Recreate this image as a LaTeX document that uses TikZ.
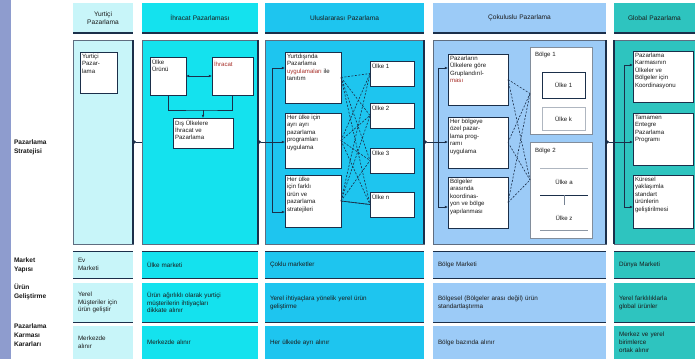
\documentclass[tikz,border=0pt]{standalone}
\usepackage{fontspec}
\setmainfont{Liberation Sans}
\usetikzlibrary{arrows.meta}

\definecolor{side}{HTML}{8E9CCE}
\definecolor{cYurt}{HTML}{C8F5F9}
\definecolor{cIhr}{HTML}{14E2EE}
\definecolor{cUlus}{HTML}{1EC5EF}
\definecolor{cCok}{HTML}{9CCBF7}
\definecolor{cGlob}{HTML}{2EC4BF}
\definecolor{edge}{HTML}{1B2F4A}
\definecolor{ink}{HTML}{1A1A1A}
\definecolor{spell}{HTML}{A8302A}

% top-aligned text block of fixed size
\newcommand\topbox[3]{\parbox[c][#2][t]{#1}{\raggedright #3}}

\begin{document}
\begin{tikzpicture}[x=1pt,y=-1pt,
  every node/.style={outer sep=0pt, text=ink},
  hdr/.style={inner xsep=3pt, inner ysep=0pt, align=center, font=\fontsize{6.6}{8.2}\selectfont},
  colbody/.style={draw=edge!70, line width=0.5pt, inner sep=0pt},
  rowcell/.style={inner xsep=5pt, inner ysep=0pt, align=left, font=\fontsize{6.3}{7.8}\selectfont},
  rowlabel/.style={inner sep=0pt, align=left, anchor=west, font=\bfseries\fontsize{6.6}{8.8}\selectfont},
  wbox/.style={draw=edge, fill=white, line width=0.6pt, inner sep=2pt, anchor=north west, font=\fontsize{6.1}{7.4}\selectfont},
  smalltext/.style={inner sep=0pt, font=\fontsize{6.1}{7.4}\selectfont},
  edgerule/.style={draw=edge, line width=1.3pt},
  cellrule/.style={draw=edge, line width=1pt},
  conn/.style={draw=edge, line width=0.7pt},
  arrowend/.style={-{Latex[length=3.2pt,width=2.8pt]}},
  dotstart/.style={{Circle[length=3pt]}-},
  dashedconn/.style={draw=edge, line width=0.6pt, dash pattern=on 2pt off 1.5pt},
]
\useasboundingbox (0,0) rectangle (695,359);
\fill[white] (0,0) rectangle (695,359);
\fill[side] (0,0) rectangle (11,359);

% ---------- row labels ----------
\node[rowlabel] (lS) at (14,147) {Pazarlama\\Stratejisi};
\node[rowlabel] (lM) at (14,265) {Market\\Yapısı};
\node[rowlabel] (lP) at (14,292) {Ürün\\Geliştirme};
\node[rowlabel] (lK) at (14,335) {Pazarlama\\Karması\\Kararları};

% ---------- column headers ----------
\node[hdr, fill=cYurt, minimum width=60, minimum height=30, text width=54] (hY) at (103,18) {Yurtiçi\\Pazarlama};
\node[hdr, fill=cIhr, minimum width=116, minimum height=30, text width=110] (hI) at (200,18) {İhracat Pazarlaması};
\node[hdr, fill=cUlus, minimum width=159, minimum height=30, text width=153] (hU) at (344.5,18) {Uluslararası Pazarlama};
\node[hdr, fill=cCok, minimum width=173, minimum height=30, text width=167] (hC) at (519.5,18) {Çokuluslu Pazarlama};
\node[hdr, fill=cGlob, minimum width=81, minimum height=30, text width=75] (hG) at (654.5,18) {Global Pazarlama};
\foreach \h in {hY,hI,hU,hC,hG}{\draw[edgerule] (\h.south west) -- (\h.south east);}

% ---------- column bodies ----------
\node[colbody, fill=cYurt, minimum width=60, minimum height=204] (bY) at (103,142) {};
\node[colbody, fill=cIhr, minimum width=116, minimum height=204] (bI) at (200,142) {};
\node[colbody, fill=cUlus, minimum width=159, minimum height=204] (bU) at (344.5,142) {};
\node[colbody, fill=cCok, minimum width=173, minimum height=204] (bC) at (519.5,142) {};
\node[colbody, fill=cGlob, minimum width=81, minimum height=204] (bG) at (654.5,142) {};
\foreach \b in {bY,bI,bU,bC}{\draw[edgerule] (\b.north east) -- (\b.south east);}
\draw[edgerule] (bG.north west) -- (bG.south west);

% ---------- lower rows ----------
\node[rowcell, fill=cYurt, minimum height=27, text width=50] (mY) at (103,264.5) {Ev\\Marketi};
\node[rowcell, fill=cIhr, minimum height=27, text width=106] (mI) at (200,264.5) {Ülke marketi};
\node[rowcell, fill=cUlus, minimum height=27, text width=149] (mU) at (344.5,264.5) {Çoklu marketler};
\node[rowcell, fill=cCok, minimum height=27, text width=163] (mC) at (519.5,264.5) {Bölge Marketi};
\node[rowcell, fill=cGlob, minimum height=27, text width=71] (mG) at (654.5,264.5) {Dünya Marketi};

\node[rowcell, fill=cYurt, minimum height=39, text width=50] (pY) at (103,302.5) {Yerel\\Müşteriler için\\ürün geliştir};
\node[rowcell, fill=cIhr, minimum height=39, text width=106] (pI) at (200,302.5) {Ürün ağırlıklı olarak yurtiçi\\müşterilerin ihtiyaçları\\dikkate alınır};
\node[rowcell, fill=cUlus, minimum height=39, text width=149] (pU) at (344.5,302.5) {Yerel ihtiyaçlara yönelik yerel ürün\\geliştirme};
\node[rowcell, fill=cCok, minimum height=39, text width=163] (pC) at (519.5,302.5) {Bölgesel (Bölgeler arası değil) ürün\\standartlaştırma};
\node[rowcell, fill=cGlob, minimum height=39, text width=71] (pG) at (654.5,302.5) {Yerel farklılıklarla\\global ürünler};

\node[rowcell, fill=cYurt, minimum height=33, text width=50] (kY) at (103,342.5) {Merkezde\\alınır};
\node[rowcell, fill=cIhr, minimum height=33, text width=106] (kI) at (200,342.5) {Merkezde alınır};
\node[rowcell, fill=cUlus, minimum height=33, text width=149] (kU) at (344.5,342.5) {Her ülkede ayrı alınır};
\node[rowcell, fill=cCok, minimum height=33, text width=163] (kC) at (519.5,342.5) {Bölge bazında alınır};
\node[rowcell, fill=cGlob, minimum height=33, text width=71] (kG) at (654.5,342.5) {Merkez ve yerel\\birimlerce\\ortak alınır};

\foreach \c in {Y,I,U,C,G}{
  \draw[cellrule] (m\c.north west) -- (m\c.north east);
  \draw[cellrule] (m\c.south west) -- (m\c.south east);
  \draw[cellrule] (p\c.south west) -- (p\c.south east);
}

% ---------- Yurtiçi ----------
\node[wbox] (yb) at (80,52) {\topbox{33pt}{37pt}{Yurtiçi\\Pazar-\\lama}};

% ---------- İhracat ----------
\node[wbox] (iA) at (150,57) {\topbox{32pt}{34pt}{Ülke\\Ürünü}};
\node[wbox] (iB) at (212,57) {\topbox{37pt}{34pt}{\mbox{}\\\textcolor{spell}{İhracat}}};
\node[wbox] (iC) at (173,118) {\topbox{56pt}{26pt}{Dış Ülkelere\\İhracat ve\\Pazarlama}};
\coordinate (iJ) at (203,110);
\draw[conn,{Latex[length=3.2pt,width=2.8pt]}-{Latex[length=3.2pt,width=2.8pt]}] (iA.east) -- (iB.west);
\draw[conn] (iA.south) |- (iJ) -| (iB.south);
\draw[conn,arrowend] (iJ) -- (iC.north);

% ---------- Uluslararası ----------
\node[wbox] (u1) at (285,52) {\topbox{52pt}{47pt}{Yurtdışında\\Pazarlama\\\textcolor{spell}{uygulamaları} ile\\tanıtım}};
\node[wbox] (u2) at (285,113) {\topbox{52pt}{51pt}{Her ülke için\\ayrı ayrı\\pazarlama\\programları\\uygulama}};
\node[wbox] (u3) at (285,175) {\topbox{52pt}{48pt}{Her ülke\\için farklı\\ürün ve\\pazarlama\\stratejileri}};
\node[wbox] (k1) at (370,61) {\topbox{40pt}{21pt}{Ülke 1}};
\node[wbox] (k2) at (370,103) {\topbox{40pt}{21pt}{Ülke 2}};
\node[wbox] (k3) at (370,148) {\topbox{40pt}{21pt}{Ülke 3}};
\node[wbox] (k4) at (370,192) {\topbox{40pt}{21pt}{Ülke n}};
\foreach \a in {u1,u2,u3}{\foreach \b in {k1,k2,k3,k4}{\draw[dashedconn] (\a.east) -- (\b.west);}}
\draw[conn] (u3.east) -- (k4.west);

\coordinate (uTop) at (272,68);
\coordinate (uMid) at (272,142);
\coordinate (uBot) at (272,212);
\draw[conn] (uTop) -- (uBot);
\draw[conn,arrowend] (uTop) -- (uTop -| u1.west);
\draw[conn,arrowend] (uMid) -- (uMid -| u2.west);
\draw[conn,arrowend] (uBot) -- (uBot -| u3.west);

% ---------- Çokuluslu ----------
\node[wbox] (c1) at (448,54) {\topbox{56pt}{47pt}{Pazarların\\Ülkelere göre\\Gruplandırıl-\\\textcolor{spell}{ması}}};
\node[wbox] (c2) at (448,117) {\topbox{56pt}{47pt}{Her bölgeye\\özel pazar-\\lama prog-\\ramı\\uygulama}};
\node[wbox] (c3) at (448,177) {\topbox{56pt}{47pt}{Bölgeler\\arasında\\koordinas-\\yon ve bölge\\yapılanması}};

\node[wbox, draw=edge!55, line width=0.5pt, minimum width=62, minimum height=87] (r1) at (530,47) {};
\node[wbox, draw=edge!55, line width=0.5pt, minimum width=62, minimum height=96] (r2) at (530,142) {};
\node[smalltext, anchor=north west] (r1l) at ([shift={(5pt,-5pt)}]r1.north west) {Bölge 1};
\node[smalltext, anchor=north west] (r2l) at ([shift={(5pt,-6pt)}]r2.north west) {Bölge 2};
\node[wbox, line width=0.9pt, minimum width=43, minimum height=26, inner sep=0pt] (b11) at (542,72) {};
\node[smalltext] (b11t) at (b11.center) {Ülke 1};
\node[wbox, draw=edge!35, line width=0.5pt, minimum width=43, minimum height=23, inner sep=0pt] (b12) at (542,107) {};
\node[smalltext] (b12t) at (b12.center) {Ülke k};
\node[smalltext, anchor=north west, minimum width=48, minimum height=27] (b21) at (540,168) {Ülke a};
\node[smalltext, anchor=north west, minimum width=48, minimum height=25] (b22) at (540,205) {Ülke z};
\draw[draw=edge!35, line width=0.5pt] (b21.north west) -- (b21.north east);
\draw[draw=edge, line width=1pt] (b21.south west) -- (b21.south east);
\draw[draw=edge!60, line width=0.5pt] (b21.south) -- (b22.north);
\draw[draw=edge!50, line width=0.6pt] (b22.south west) -- (b22.south east);

\foreach \a in {c1,c2,c3}{
  \draw[dashedconn] (\a.east) -- ([yshift=-3pt]r1.west);
  \draw[dashedconn] (\a.east) -- ([yshift=10pt]r2.west);
}

\coordinate (cTop) at (438,68);
\coordinate (cMid) at (438,142);
\coordinate (cBot) at (438,207);
\draw[conn] (cTop) -- (cBot);
\draw[conn,arrowend] (cTop) -- (cTop -| c1.west);
\draw[conn,arrowend] (cMid) -- (cMid -| c2.west);
\draw[conn,arrowend] (cBot) -- (cBot -| c3.west);

% ---------- Global ----------
\node[wbox] (g1) at (633,51) {\topbox{56pt}{47pt}{Pazarlama\\Karmasının\\Ülkeler ve\\Bölgeler için\\Koordinasyonu}};
\node[wbox] (g2) at (633,113) {\topbox{56pt}{48pt}{Tamamen\\Entegre\\Pazarlama\\Programı}};
\node[wbox] (g3) at (633,175) {\topbox{56pt}{49pt}{Küresel\\yaklaşımla\\standart\\ürünlerin\\geliştirilmesi}};

\coordinate (gTop) at (624,65);
\coordinate (gMid) at (624,142);
\coordinate (gBot) at (624,207);
\draw[conn] (gTop) -- (gBot);
\draw[conn,arrowend] (gTop) -- (gTop -| g1.west);
\draw[conn,arrowend] (gMid) -- (gMid -| g2.west);
\draw[conn,arrowend] (gBot) -- (gBot -| g3.west);

% ---------- links between stages ----------
\draw[conn,dotstart] (bY.east) -- (bI.west);
\draw[conn,dotstart] (bI.east) -- (uMid);
\draw[conn,dotstart] (bU.east) -- (cMid);
\draw[conn,dotstart] (bC.east) -- (gMid);
\end{tikzpicture}
\end{document}
